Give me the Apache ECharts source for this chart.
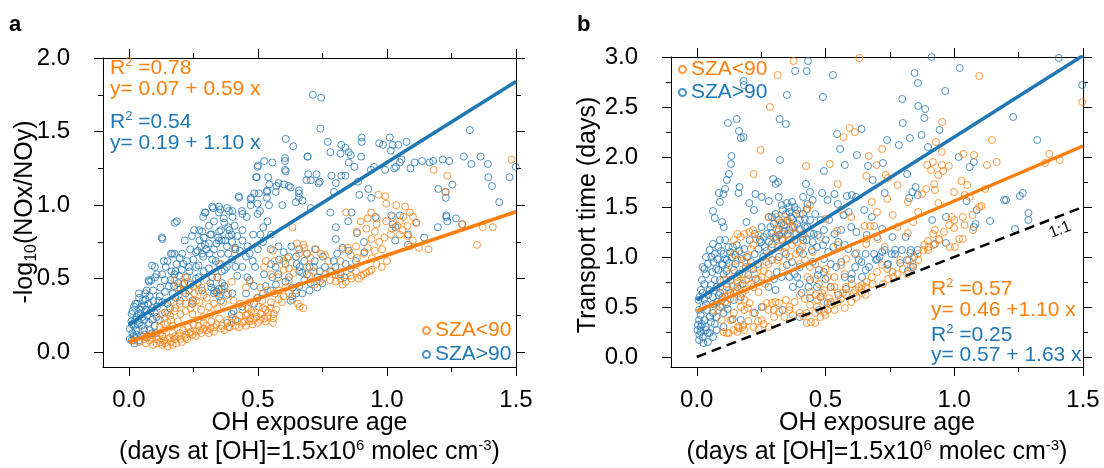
<!DOCTYPE html>
<html><head><meta charset="utf-8">
<script src="https://cdn.jsdelivr.net/npm/echarts@6/dist/echarts.min.js"></script>
<style>html,body{margin:0;padding:0;background:#fff}#c{width:1104px;height:468px}</style>
</head><body><div id="c"></div>
<script>
const ORANGE = '#ff7f0e', BLUE = '#1f77b4';
const F = "'Liberation Sans', Arial, Helvetica, sans-serif";

const xMajor = [0, 0.5, 1.0, 1.5];
const xMinor = [0.25, 0.75, 1.25];
const yMajorA = [0, 0.5, 1.0, 1.5, 2.0];
const yMinorA = [0.25, 0.75, 1.25, 1.75];
const yMajorB = [0, 0.5, 1.0, 1.5, 2.0, 2.5, 3.0];
const yMinorB = [0.25, 0.75, 1.25, 1.75, 2.25, 2.75];

const aBlue = [
[0.713,1.75],[0.745,1.73],[0.742,1.52],[1.321,1.51],[0.608,1.45],[0.637,1.40],[0.771,1.43],[0.823,1.41],[0.839,1.39],[0.902,1.43],[0.902,1.46],[0.970,1.42],[0.985,1.41],[1.011,1.46],[1.022,1.41],[1.044,1.41],[1.076,1.43],[1.015,1.37],[0.852,1.36],[0.820,1.35],[0.781,1.36],[0.860,1.34],[0.693,1.33],[0.900,1.33],[0.852,1.29],[0.950,1.26],[0.938,1.24],[0.874,1.26],[0.993,1.24],[1.035,1.26],[1.050,1.29],[1.107,1.29],[1.136,1.30],[1.165,1.29],[1.179,1.30],[1.216,1.31],[1.241,1.30],[1.298,1.33],[1.363,1.33],[1.391,1.28],[1.327,1.28],[1.028,1.25],[1.091,1.25],[1.057,1.31],
[0.524,1.30],[0.556,1.29],[0.499,1.26],[0.605,1.30],[0.608,1.23],
[0.493,1.19],[0.540,1.19],[0.544,1.14],[0.572,1.13],[0.601,1.14],[0.580,1.15],[0.627,1.12],[0.659,1.08],[0.695,1.21],[0.727,1.21],[0.705,1.17],[0.740,1.16],[0.735,1.15],[0.785,1.20],[0.823,1.20],[0.839,1.20],[0.802,1.15],[0.795,1.09],[0.888,1.16],[0.893,1.07],[0.939,1.05],[0.928,1.11],
[1.199,1.11],[1.227,1.09],[1.253,1.14],[1.228,1.05],[1.393,1.19],[1.407,1.13],[1.475,1.19],[1.435,1.02],[1.499,1.26],
[0.659,1.05],[0.705,0.98],[0.781,0.95],[0.863,0.95],[0.850,0.89],[0.802,0.85],[0.802,0.77],[0.852,0.69],[0.884,0.81],[0.911,0.75],[0.913,0.68],[0.956,0.92],[1.022,0.87],[1.033,0.85],[1.032,0.76],[1.082,0.73],[1.082,0.80],[1.114,0.88],[1.144,0.78],[1.197,0.85],[1.230,0.92],[1.234,0.89],[1.267,0.91],[1.291,0.87],[1.230,0.93],[1.017,0.93],[1.050,0.93],
[0.130,0.77],[0.186,0.89],[0.177,0.67],[0.197,0.64],[0.217,0.76],[0.238,0.70],[0.253,0.83],[0.273,0.83],[0.288,0.92],[0.295,0.95],[0.327,0.98],[0.355,0.97],[0.368,0.91],[0.388,0.96],[0.402,0.92],[0.427,1.05],[0.438,0.96],[0.457,0.92],[0.472,1.04],[0.486,1.08],[0.499,1.01],[0.508,0.96],[0.535,1.05],[0.535,1.09],[0.499,0.94],[0.537,0.89],[0.551,0.80],[0.521,0.85],[0.510,0.80],
[0.274,0.76],[0.295,0.73],[0.316,0.80],[0.330,0.70],[0.346,0.78],[0.357,0.83],[0.374,0.76],[0.385,0.85],[0.399,0.80],[0.357,0.67],[0.337,0.62],[0.313,0.67],[0.288,0.65],[0.267,0.69],[0.385,0.67],[0.413,0.71],[0.440,0.76],[0.454,0.65],[0.468,0.67],[0.482,0.80],
[0.004,0.16],[0.011,0.08],[0.022,0.06],[0.025,0.22],[0.032,0.33],[0.039,0.40],[0.053,0.24],[0.066,0.29],[0.080,0.38],[0.087,0.49],[0.094,0.42],[0.101,0.58],[0.108,0.24],[0.115,0.35],[0.122,0.44],[0.129,0.53],[0.136,0.62],[0.143,0.58],[0.150,0.33],[0.161,0.49],[0.170,0.40],[0.177,0.53],[0.191,0.47],[0.198,0.35],[0.212,0.60],[0.226,0.51],[0.233,0.42],[0.247,0.35],[0.260,0.58],[0.267,0.47],[0.011,0.26],[0.014,0.13],[0.028,0.15],[0.042,0.20],[0.047,0.11],[0.060,0.15],[0.078,0.20],[0.091,0.22],[0.105,0.13],[0.004,0.09],[0.046,0.29],[0.055,0.35],[0.069,0.42],[0.078,0.48],[0.108,0.53],[0.140,0.49],[0.150,0.62],[0.163,0.67],
[0.02,0.18],[0.03,0.12],[0.05,0.18],[0.07,0.25],[0.09,0.30],[0.06,0.32],[0.04,0.37],[0.10,0.27],
[0.32,0.44],[0.34,0.41],[0.36,0.43],[0.38,0.39],[0.35,0.38],[0.33,0.40],[0.37,0.45],
[0.579,0.53],[0.607,0.48],[0.634,0.44],[0.648,0.40],[0.627,0.35],[0.662,0.58],[0.690,0.53],[0.717,0.58],[0.704,0.47],[0.731,0.51],[0.551,0.60],[0.524,0.53],[0.489,0.58],[0.468,0.49],[0.454,0.40],[0.485,0.33],[0.399,0.26],[0.406,0.28],[0.357,0.35],[0.330,0.42],[0.316,0.47],[0.343,0.51],[0.371,0.56],[0.413,0.58],[0.807,0.67],[0.828,0.71],[0.835,0.51],[0.821,0.53],[0.794,0.62],[0.752,0.65],[0.724,0.70],[0.690,0.67],[0.648,0.65],[0.607,0.60],
[0.500,1.27],[0.605,1.32],[0.605,1.24],[0.692,1.33],[0.496,1.19],[0.426,1.06],[0.474,1.05],[0.504,1.08],[0.536,1.10],[0.569,1.09],[0.620,1.13],[0.659,1.10],[0.688,1.17],[0.323,0.99],[0.349,0.99],[0.381,0.98],[0.297,0.95],[0.349,0.95],[0.401,0.96],[0.440,0.94],[0.472,1.00],[0.543,1.00],[0.595,1.00],[0.647,1.02],[0.673,1.03],
[0.178,0.88],[0.128,0.78],[0.168,0.67],[0.207,0.67],[0.09,0.59],[0.102,0.51],[0.077,0.49],[0.064,0.40],[0.025,0.33],[0.038,0.26],[0.012,0.19],[0.018,0.11],[0.245,0.79],[0.284,0.82],[0.31,0.74],[0.349,0.76],[0.388,0.79],[0.413,0.70],[0.44,0.83],[0.284,0.67],[0.323,0.63],[0.232,0.58],[0.181,0.55],[0.27,0.51],[0.323,0.51],[0.362,0.47],[0.349,0.43],[0.284,0.42],[0.245,0.33],[0.401,0.40],[0.44,0.31],[0.413,0.22],[0.381,0.20],[0.459,0.51],[0.485,0.45],[0.556,0.51],[0.569,0.58],[0.582,0.63],[0.62,0.65],[0.66,0.70],[0.62,0.51],[0.66,0.45],[0.672,0.40],[0.633,0.38],[0.672,0.54],
[0.01,0.21],[0.015,0.28],[0.02,0.31],[0.03,0.24],[0.035,0.19],[0.045,0.26],[0.05,0.31],[0.06,0.22],[0.065,0.36],[0.075,0.33],[0.085,0.28],[0.095,0.35],[0.11,0.31],[0.12,0.38],[0.13,0.34],[0.14,0.41],[0.155,0.45],[0.165,0.55],[0.175,0.45],[0.185,0.60],[0.195,0.52],[0.205,0.56],[0.215,0.47],[0.225,0.62],[0.235,0.55],[0.25,0.63],[0.26,0.68],[0.27,0.59],[0.28,0.72],[0.29,0.78],[0.30,0.70],[0.31,0.86],[0.32,0.80],[0.33,0.89],[0.34,0.74],[0.35,0.82],[0.36,0.76],[0.37,0.88],[0.38,0.72],[0.39,0.83],[0.40,0.75],[0.41,0.86],[0.42,0.79],[0.43,0.69],[0.35,0.60],[0.36,0.55],[0.38,0.58],[0.40,0.63],[0.31,0.57],[0.29,0.55],[0.26,0.50],[0.24,0.46],[0.22,0.40],[0.20,0.43],[0.18,0.37],[0.16,0.30],[0.14,0.27],[0.12,0.22],[0.10,0.18],[0.08,0.15],[0.06,0.12],[0.04,0.08],[0.025,0.10],[0.07,0.10],[0.09,0.13],[0.48,0.62],[0.50,0.70],[0.52,0.75],[0.46,0.72],[0.44,0.58],[0.42,0.52],[0.55,0.70],[0.58,0.72],[0.60,0.68],[0.63,0.72],[0.65,0.60],[0.68,0.62],[0.70,0.58],[0.72,0.62],[0.74,0.55],[0.76,0.58],[0.78,0.55],[0.80,0.58],[0.84,0.60],[0.86,0.57],[0.88,0.62],[0.75,0.47],[0.73,0.44],[0.70,0.42],[0.68,0.49],[0.66,0.55],[0.57,0.46],[0.55,0.42],[0.52,0.40],[0.50,0.37],[0.53,0.45]
];

const aOrange = [
[1.483,1.31],[1.181,1.24],[1.234,1.20],[1.226,1.09],[0.967,1.07],[0.997,1.01],[1.036,1.00],[0.994,1.06],[1.089,0.95],[1.071,0.99],[0.842,0.95],[0.939,0.95],[0.960,0.91],[0.925,0.91],[0.898,0.89],[0.884,0.82],[0.953,0.82],[0.997,0.89],[1.022,0.92],[1.050,0.89],[1.064,0.92],[1.101,0.92],[1.112,0.88],[1.079,0.86],[1.050,0.80],[1.015,0.80],[0.981,0.70],[0.953,0.69],[0.925,0.71],[0.884,0.64],[0.911,0.67],[0.942,0.64],[0.932,0.55],[0.909,0.53],[0.891,0.50],[0.863,0.50],[0.828,0.46],[0.801,0.48],[0.814,0.52],[0.787,0.55],[0.752,0.50],[0.717,0.55],[0.690,0.58],[0.676,0.73],[0.651,0.74],[0.690,0.67],[0.704,0.64],[0.745,0.67],[0.773,0.62],[0.828,0.70],[0.849,0.71],[1.124,0.71],[1.161,0.70],[1.089,0.72],[1.371,0.85],[1.410,0.85],[1.349,0.73],[1.292,0.87],
[0.634,0.85],[0.614,0.64],[0.600,0.62],[0.565,0.62],[0.531,0.62],[0.524,0.58],[0.558,0.69],[0.551,0.53],[0.579,0.51],[0.607,0.44],[0.620,0.49],[0.648,0.42],[0.662,0.31],[0.676,0.30],[0.655,0.33],[0.634,0.36],[0.593,0.34],[0.565,0.40],[0.537,0.42],[0.510,0.44],[0.468,0.48],[0.454,0.44],[0.399,0.48],[0.409,0.70],[0.357,0.60],[0.343,0.51],[0.302,0.49],[0.281,0.44],[0.219,0.51],[0.177,0.49],
[0.018,0.08],[0.039,0.07],[0.066,0.06],[0.080,0.08],[0.094,0.05],[0.108,0.06],[0.122,0.07],[0.136,0.08],[0.150,0.09],[0.163,0.07],[0.177,0.09],[0.191,0.11],[0.205,0.07],[0.219,0.12],[0.233,0.13],[0.247,0.12],[0.260,0.14],[0.274,0.15],[0.288,0.16],[0.302,0.15],[0.316,0.16],[0.330,0.17],[0.357,0.16],[0.385,0.17],[0.399,0.20],[0.413,0.18],[0.427,0.17],[0.440,0.20],[0.454,0.18],[0.468,0.21],[0.482,0.22],[0.496,0.24],[0.510,0.22],[0.524,0.23],[0.537,0.24],[0.558,0.20],[0.562,0.26],[0.530,0.29],[0.503,0.31],[0.474,0.28],[0.454,0.25],[0.496,0.37],[0.468,0.34],[0.434,0.33],[0.406,0.35],[0.385,0.40],[0.366,0.34],[0.343,0.30],[0.316,0.26],[0.288,0.24],[0.267,0.22],[0.247,0.26],[0.219,0.28],[0.198,0.33],[0.177,0.28],[0.163,0.22],[0.150,0.20],[0.136,0.15],[0.122,0.13],[0.108,0.11],[0.087,0.12],[0.073,0.11],[0.053,0.11],[0.115,0.22],[0.129,0.26],[0.150,0.27],[0.163,0.35],[0.191,0.38],[0.212,0.42],[0.233,0.38],[0.253,0.40],[0.247,0.33],[0.274,0.34],[0.302,0.37],[0.330,0.33],[0.343,0.40],[0.371,0.44],[0.440,0.29],[0.461,0.30],[0.517,0.35],[0.551,0.34],[0.579,0.42],[0.198,0.13],[0.226,0.09],[0.184,0.06],[0.150,0.04],[0.170,0.05],[0.129,0.05],
[0.06,0.09],[0.09,0.10],[0.11,0.09],[0.13,0.11],[0.14,0.06],[0.16,0.10],[0.17,0.13],[0.18,0.11],[0.20,0.09],[0.21,0.15],[0.22,0.10],[0.23,0.17],[0.24,0.14],[0.25,0.19],[0.26,0.11],[0.27,0.18],[0.28,0.13],[0.29,0.20],[0.30,0.18],[0.31,0.13],[0.32,0.21],[0.33,0.14],[0.34,0.19],[0.35,0.23],[0.36,0.18],[0.37,0.15],[0.38,0.22],[0.39,0.17],[0.40,0.23],[0.42,0.21],[0.43,0.25],[0.45,0.21],[0.46,0.26],[0.47,0.23],[0.48,0.19],[0.49,0.27],[0.50,0.20],[0.51,0.26],[0.52,0.30],[0.53,0.21],[0.54,0.27],[0.55,0.30],[0.56,0.23],[0.57,0.29],[0.12,0.17],[0.14,0.19],[0.17,0.18],[0.19,0.21],[0.16,0.25],[0.18,0.30],[0.20,0.26],[0.22,0.33],[0.24,0.30],[0.26,0.35],[0.28,0.29],[0.29,0.39],[0.31,0.31],[0.27,0.42],[0.25,0.45],[0.23,0.48],[0.21,0.46],[0.19,0.44],[0.60,0.38],[0.62,0.40],[0.58,0.36],[0.70,0.52],[0.72,0.46],[0.74,0.48],[0.76,0.53],[0.78,0.49],[0.80,0.53],[0.82,0.50],[0.84,0.48],[0.86,0.52],[0.88,0.55],[0.90,0.52],[0.92,0.54],[0.94,0.56],[0.96,0.60],[0.98,0.58],[1.00,0.62],[0.97,0.75],[0.99,0.78],[1.02,0.84],[1.04,0.86],[1.06,0.83],[1.08,0.79],[1.10,0.76],[0.94,0.77],[0.92,0.84],[0.96,0.87],[0.86,0.66],[0.88,0.72],[0.82,0.62],[0.76,0.66],[0.72,0.70],[0.68,0.71],[0.66,0.67],[0.62,0.57],[0.64,0.54],[0.60,0.56]
];

const bBlue = [
[0.432,2.96],[0.427,2.86],[0.382,2.86],[0.529,2.82],[0.182,2.76],[0.183,2.72],[0.350,2.62],[0.490,2.60],[0.912,3.00],[1.021,2.89],[0.846,2.84],[0.859,2.74],[0.965,2.66],[1.406,2.99],[1.497,2.72],[0.798,2.58],[0.860,2.51],[0.887,2.48],[0.884,2.39],[0.800,2.34],[0.943,2.27],[1.229,2.40],[1.322,2.17],[0.121,2.34],[0.155,2.38],[0.164,2.26],[0.171,2.19],[0.182,2.20],[0.322,2.38],[0.346,2.33],[0.545,2.23],[0.557,2.08],[0.622,2.02],[0.640,2.28],[0.739,2.17],[0.785,2.12],[0.828,2.19],[0.873,2.22],[0.898,2.10],[1.017,2.00],[1.076,1.95],[1.060,1.90],[0.135,2.01],[0.133,1.93],[0.125,1.83],[0.117,1.77],[0.166,1.70],[0.110,1.68],[0.086,1.64],[0.090,1.55],[0.104,1.63],[0.063,1.46],[0.070,1.39],[0.098,1.35],[0.105,1.30],[0.162,1.64],[0.204,1.54],[0.193,1.35],[0.222,1.47],[0.280,1.56],[0.297,1.78],[0.316,1.75],[0.323,1.97],[0.306,1.73],[0.318,1.60],[0.252,1.60],[0.228,1.63],[0.424,1.73],[0.440,1.65],[0.487,1.64],[0.450,1.57],[0.413,1.60],[0.430,1.53],[0.494,1.86],[0.508,1.57],[0.535,1.63],[0.548,1.53],[0.575,1.92],[0.583,1.61],[0.602,1.62],[0.619,1.60],[0.683,1.77],[0.730,1.64],[0.723,1.94],[0.665,1.91],[0.817,1.83],[0.858,1.62],[0.837,1.65],[0.825,1.59],[0.850,1.70],[1.048,1.56],[0.914,1.37],[0.968,1.40],[1.087,1.47],[1.083,1.33],[1.139,1.36],[1.201,1.57],[1.194,1.57],[1.255,1.61],[1.266,1.64],[1.288,1.44],[1.288,1.37],[1.236,1.28],[1.076,1.30],[0.968,1.14],[0.925,1.13],
[0.474,0.87],[0.494,0.85],[0.521,0.93],[0.541,0.90],[0.561,0.95],[0.575,0.80],[0.602,0.83],[0.615,0.90],[0.629,0.97],[0.642,0.80],[0.656,0.87],[0.669,0.90],[0.689,1.03],[0.696,0.97],[0.710,1.00],[0.730,1.07],[0.743,0.93],[0.757,1.03],[0.770,1.07],[0.797,1.07],[0.811,1.20],[0.817,0.97],[0.831,1.07],[0.844,1.00],[0.858,1.07],[0.656,1.03],[0.615,1.03],[0.588,1.08],[0.494,0.98],[0.467,1.10],[0.501,1.17],[0.535,1.23],[0.561,1.27],[0.575,1.12],[0.413,1.17],[0.420,1.30],[0.386,1.23],[0.400,0.73],[0.407,0.64],[0.434,0.70],[0.440,0.59],[0.400,0.90],[0.373,0.70],[0.380,0.83],[0.360,0.80],[0.440,0.77],[0.467,0.70],[0.481,0.60],[0.508,0.54],[0.474,0.47],[0.400,0.40],[0.333,0.47],[0.306,0.67],[0.279,0.70],[0.252,0.50],[0.225,0.44],[0.171,0.37],[0.104,0.30],
[0.292,1.40],[0.306,1.43],[0.319,1.37],[0.333,1.47],[0.346,1.43],[0.360,1.50],[0.366,1.40],[0.373,1.30],[0.386,1.43],[0.353,1.23],[0.333,1.17],[0.306,1.20],[0.292,1.13],[0.272,1.23],[0.265,1.10],[0.286,1.30],[0.319,1.27],[0.339,1.32],[0.360,1.27],[0.380,1.17],[0.400,1.07],[0.413,1.03],[0.346,1.03],[0.319,1.00],[0.292,0.97],[0.258,1.00],[0.238,0.93],[0.225,1.03],[0.245,1.17],[0.225,1.23],[0.205,1.17],[0.252,1.30],[0.279,1.40],[0.400,1.37],[0.413,1.43],[0.427,1.48],[0.440,1.37],[0.460,1.43],[0.481,1.37],[0.494,1.27],[0.514,1.37],[0.454,1.23],[0.427,1.17],[0.447,1.07],
[0.009,0.17],[0.023,0.20],[0.003,0.27],[0.016,0.30],[0.036,0.27],[0.043,0.24],[0.030,0.37],[0.009,0.37],[0.050,0.40],[0.063,0.44],[0.077,0.40],[0.090,0.50],[0.104,0.44],[0.036,0.53],[0.023,0.64],[0.050,0.67],[0.063,0.60],[0.077,0.70],[0.090,0.77],[0.104,0.83],[0.117,0.70],[0.131,0.77],[0.144,0.87],[0.036,0.83],[0.023,0.90],[0.043,0.93],[0.057,1.00],[0.070,1.03],[0.084,1.10],[0.063,1.13],[0.050,1.07],[0.090,1.17],[0.104,1.03],[0.117,0.97],[0.124,1.10],[0.137,1.00],[0.151,0.93],[0.164,0.83],[0.178,0.73],[0.191,0.90],[0.030,0.73],[0.009,0.47],[0.007,0.57],[0.016,0.67],[0.036,1.00],[0.070,0.77],[0.084,0.87],[0.097,0.93],[0.110,1.17],[0.158,0.70],[0.171,0.60],[0.144,0.57],[0.131,0.64],[0.117,0.53],[0.090,0.64],[0.063,0.53],[0.050,0.24],[0.063,0.20],[0.077,0.27],[0.026,0.14],[0.043,0.15],
[0.01,0.22],[0.02,0.33],[0.015,0.42],[0.025,0.50],[0.03,0.58],[0.04,0.47],[0.045,0.62],[0.055,0.72],[0.06,0.85],[0.065,0.95],[0.075,0.88],[0.08,0.98],[0.085,0.62],[0.095,1.06],[0.10,0.92],[0.11,0.98],[0.115,0.86],[0.125,0.94],[0.13,1.05],[0.14,1.10],[0.15,1.02],[0.155,1.12],[0.165,1.06],[0.175,0.98],[0.185,1.08],[0.195,1.00],[0.20,0.82],[0.21,0.95],[0.22,0.88],[0.23,0.78],[0.24,1.08],[0.25,1.15],[0.26,1.20],[0.27,1.06],[0.28,1.15],[0.29,1.24],[0.30,1.33],[0.31,1.18],[0.32,1.22],[0.33,1.34],[0.34,1.26],[0.35,1.36],[0.36,1.45],[0.37,1.38],[0.38,1.50],[0.39,1.33],[0.40,1.28],[0.41,1.20],[0.42,1.38],[0.43,1.30],[0.44,1.24],[0.45,1.15],[0.47,1.22],[0.49,1.12],[0.51,1.05],[0.53,1.10],[0.55,1.15],[0.57,1.42],[0.59,1.45],[0.60,1.30],[0.62,1.25],[0.65,1.47],[0.68,1.40],[0.70,1.20],[0.33,1.52],[0.35,1.54],[0.37,1.55],[0.39,1.47],[0.31,0.85],[0.33,0.80],[0.35,0.92],[0.37,0.95],[0.39,0.80],[0.30,0.78],[0.02,0.77],[0.03,0.88],[0.01,0.60],[0.005,0.32],[0.015,0.25],[0.035,0.30],[0.055,0.35],[0.07,0.33],[0.08,0.55],[0.10,0.60],[0.12,0.48],[0.14,0.38],[0.70,0.98],[0.72,1.05],[0.74,0.92],[0.77,1.03],[0.79,0.94],[0.83,1.04],[0.84,0.90],[0.82,0.86],[0.76,1.20],[0.72,1.28],[0.66,1.22],[0.64,0.95],[0.60,0.78],[0.58,0.68],[0.55,0.62],[0.52,0.70],[0.50,0.78],[0.47,0.82],[0.45,0.95]
];

const bOrange = [
[0.376,2.96],[0.631,2.99],[0.314,2.82],[1.097,2.81],[0.284,2.50],[0.953,2.35],[0.594,2.29],[0.614,2.25],[0.570,2.20],[0.248,2.07],[0.720,2.08],[0.929,2.15],[1.146,2.17],[0.221,1.83],[0.424,1.91],[0.517,1.93],[0.548,1.73],[0.668,2.01],[0.658,1.81],[0.698,1.92],[0.734,1.82],[0.743,1.79],[0.952,2.05],[0.917,1.95],[0.952,1.92],[0.979,1.91],[0.957,1.86],[0.895,1.92],[0.938,1.82],[0.910,1.87],[1.035,2.03],[1.077,2.02],[1.127,1.92],[1.165,1.95],[1.369,2.03],[1.353,1.94],[1.410,1.97],[1.497,2.55],[1.028,1.76],[1.050,1.72],[0.999,1.65],[1.040,1.62],[0.925,1.67],[0.875,1.63],[0.891,1.68],[0.922,1.73],[0.938,1.54],[0.990,1.40],[1.033,1.40],[0.999,1.29],[1.073,1.27],[1.071,1.42],[1.097,1.50],[1.106,1.51],[1.040,1.32],[1.019,1.18],[1.033,1.18],[1.002,1.10],[0.983,1.10],[0.942,1.17],[0.918,1.23],[0.925,1.27],[0.898,1.16],[0.898,1.07],[0.884,1.12],[0.761,1.42],[0.652,1.31],[0.673,1.31],[0.689,1.31],[0.545,1.26],[0.548,1.12],[0.658,1.13],[0.703,1.18],[0.730,1.10],[0.440,1.52],[0.430,1.48],[0.279,1.40],[0.310,1.40],[0.400,1.43],
[0.817,0.83],[0.831,0.90],[0.858,1.03],[0.824,0.97],[0.790,0.97],[0.763,0.80],[0.743,0.78],[0.723,0.73],[0.683,0.73],[0.656,0.70],[0.642,0.64],[0.656,0.62],[0.642,0.72],[0.629,0.70],[0.579,0.70],[0.548,0.64],[0.521,0.70],[0.494,0.67],[0.474,0.73],[0.508,0.80],[0.535,0.80],[0.575,0.83],[0.602,0.73],[0.615,0.67],[0.568,0.64],[0.548,0.55],[0.521,0.52],[0.508,0.47],[0.535,0.47],[0.494,0.55],[0.467,0.57],[0.481,0.60],[0.440,0.52],[0.467,0.50],[0.460,0.44],[0.427,0.44],[0.413,0.41],[0.400,0.44],[0.373,0.42],[0.360,0.47],[0.427,0.34],[0.460,0.34],[0.443,0.35],[0.575,0.49],[0.609,0.64],[0.494,0.45],[0.487,0.64],[0.514,0.59],[0.535,0.70],[0.346,0.57],[0.319,0.54],[0.306,0.55],[0.292,0.54],[0.272,0.54],[0.279,0.47],[0.299,0.47],[0.252,0.37],[0.238,0.36],[0.219,0.44],[0.198,0.49],[0.185,0.47],[0.205,0.54],[0.185,0.57],[0.171,0.50],[0.144,0.44],[0.131,0.37],[0.104,0.25],[0.124,0.24],[0.144,0.27],[0.164,0.29],[0.185,0.27],[0.178,0.30],[0.158,0.25],[0.117,0.24],[0.137,0.37],[0.097,0.37],
[0.144,1.17],[0.158,1.23],[0.171,1.20],[0.185,1.23],[0.205,1.25],[0.218,1.27],[0.144,1.03],[0.158,0.97],[0.171,1.03],[0.137,0.90],[0.158,0.80],[0.178,0.83],[0.191,0.77],[0.205,0.90],[0.211,0.73],[0.225,0.83],[0.238,0.77],[0.252,0.80],[0.265,0.73],[0.279,0.83],[0.279,0.93],[0.238,0.90],[0.191,0.67],[0.178,0.64],[0.164,0.57],[0.144,0.64],[0.124,0.67],[0.110,0.60],[0.097,0.57],[0.084,0.47],[0.063,0.47],[0.117,0.73],[0.090,0.70],[0.104,0.77],[0.124,0.83],[0.346,1.10],[0.360,1.17],[0.333,1.23],[0.319,1.10],[0.313,0.97],[0.333,0.90],[0.360,1.00],[0.386,1.03],[0.400,0.93],[0.366,1.30],[0.353,1.37],[0.339,1.40],[0.380,1.23],[0.413,1.23],[0.420,0.97],[0.440,0.90],[0.460,0.93],[0.258,0.50],
[0.10,0.50],[0.11,0.55],[0.12,0.62],[0.13,0.58],[0.14,0.70],[0.15,0.66],[0.16,0.75],[0.17,0.72],[0.18,0.88],[0.19,0.95],[0.20,1.00],[0.21,1.08],[0.22,1.12],[0.23,1.18],[0.24,1.22],[0.20,0.78],[0.22,0.70],[0.24,0.65],[0.26,0.86],[0.27,0.95],[0.28,1.02],[0.29,1.10],[0.30,1.20],[0.31,1.28],[0.32,1.32],[0.33,1.18],[0.34,1.05],[0.35,1.22],[0.36,1.35],[0.37,1.12],[0.38,1.30],[0.39,1.15],[0.40,1.05],[0.41,1.10],[0.16,0.30],[0.18,0.32],[0.20,0.36],[0.22,0.30],[0.24,0.28],[0.26,0.33],[0.28,0.30],[0.30,0.40],[0.32,0.45],[0.34,0.40],[0.36,0.50],[0.38,0.55],[0.40,0.62],[0.42,0.58],[0.44,0.65],[0.46,0.62],[0.48,0.40],[0.50,0.42],[0.52,0.55],[0.56,0.58],[0.58,0.62],[0.60,0.55],[0.62,0.60],[0.64,0.68],[0.66,0.75],[0.68,0.80],[0.70,0.85],[0.72,0.92],[0.74,0.88],[0.76,0.85],[0.78,0.83],[0.80,0.88],[0.84,0.92],[0.86,0.97],[0.88,1.07],[0.90,1.10],[0.92,1.12],[0.94,1.18],[0.96,1.25],[0.98,1.32],[1.00,1.37],[1.06,1.60],[1.12,1.68],[0.86,1.45],[0.82,1.55],[0.78,1.72],[0.68,1.55],[0.60,1.40],[0.56,1.47],[0.50,1.38],[0.48,1.20],[0.45,1.05],[0.43,0.80],[0.46,0.78],[0.50,0.88],[0.56,0.92],[0.58,0.98],[0.62,1.04],[0.66,1.18],[0.70,1.45],[0.74,1.58],[0.78,1.30],[0.82,1.24],[0.84,1.35]
];

const aFitOrange = [[0, 0.07], [1.5, 0.955]];
const aFitBlue = [[0, 0.19], [1.5, 1.84]];
const bFitOrange = [[0, 0.46], [1.5, 2.11]];
const bFitBlue = [[0, 0.57], [1.5, 3.015]];
const bOneToOne = [[0, 0], [1.5, 1.5]];

const fmt = v => v.toFixed(1);
function ax(grid, pos, min, max, ticks, len, showLine, labels, margin) {
  return {
    type: 'value', gridIndex: grid, position: pos, min: min, max: max,
    axisLine: { show: showLine, onZero: false, lineStyle: { color: '#000', width: 1 } },
    axisTick: { show: true, customValues: ticks, length: len, inside: false, lineStyle: { color: '#000', width: 1 } },
    axisLabel: labels ? { show: true, customValues: labels, formatter: fmt, fontSize: 24, color: '#000', fontFamily: F, margin: margin } : { show: false },
    splitLine: { show: false }
  };
}
const xAxes = [], yAxes = [];
[[yMajorA, yMinorA, 2.0], [yMajorB, yMinorB, 3.0]].forEach((cfg, g) => {
  xAxes.push(ax(g, 'bottom', -0.1, 1.5, xMajor, 9, true, xMajor, 21));
  xAxes.push(ax(g, 'bottom', -0.1, 1.5, xMinor, 5, false, null));
  xAxes.push(ax(g, 'top', -0.1, 1.5, xMajor, 9, true, null));
  xAxes.push(ax(g, 'top', -0.1, 1.5, xMinor, 5, false, null));
  yAxes.push(ax(g, 'left', -0.1, cfg[2], cfg[0], 9, true, cfg[0], 33));
  yAxes.push(ax(g, 'left', -0.1, cfg[2], cfg[1], 5, false, null));
  yAxes.push(ax(g, 'right', -0.1, cfg[2], cfg[0], 9, true, null));
  yAxes.push(ax(g, 'right', -0.1, cfg[2], cfg[1], 5, false, null));
});

function sc(name, data, color, xi) {
  return { type: 'scatter', name: name, data: data, xAxisIndex: xi, yAxisIndex: xi,
    symbol: 'circle', symbolSize: 7, silent: true, emphasis: { disabled: true },
    itemStyle: { color: 'rgba(0,0,0,0)', borderColor: color, borderWidth: 1 } };
}
function ln(data, color, xi, width, type) {
  return { type: 'line', data: data, xAxisIndex: xi, yAxisIndex: xi, symbol: 'none', silent: true,
    emphasis: { disabled: true }, lineStyle: { color: color, width: width, type: type || 'solid' }, z: 5 };
}

function rt(text, color, size, supSize) {
  return { text: text, align: 'left', verticalAlign: 'middle',
    rich: { m: { fontSize: size, fontFamily: F, fill: color, lineHeight: size + 3 },
            p: { fontSize: supSize, fontFamily: F, fill: color, verticalAlign: 'top' } } };
}
function ann(x, y, text, color) {
  return { type: 'text', x: x, y: y, z: 10, style: rt(text, color, 21, 13) };
}
function xTitle(cx) {
  return [
    { type: 'text', x: cx, y: 423, style: { text: 'OH exposure age', fontSize: 25, fontFamily: F, fill: '#000', align: 'center', verticalAlign: 'middle' } },
    { type: 'text', x: cx, y: 452, style: Object.assign(rt('{m|(days at [OH]=1.5x10}{p|6}{m| molec cm}{p|-3}{m|)}', '#000', 25, 15), { align: 'center' }) }
  ];
}

const option = {
  animation: false,
  backgroundColor: '#fff',
  grid: [
    { left: 103, top: 58, width: 413, height: 309 },
    { left: 671, top: 57, width: 412, height: 310 }
  ],
  xAxis: xAxes,
  yAxis: yAxes,
  legend: [
    { orient: 'vertical', left: 417, top: 315, itemWidth: 7, itemHeight: 7, itemGap: 3, icon: 'circle', selectedMode: false,
      textStyle: { fontSize: 21, fontFamily: F },
      data: [{ name: 'SZA<90', textStyle: { color: ORANGE } }, { name: 'SZA>90', textStyle: { color: BLUE } }] },
    { orient: 'vertical', left: 673, top: 54, itemWidth: 7, itemHeight: 7, itemGap: 2, icon: 'circle', selectedMode: false,
      textStyle: { fontSize: 21, fontFamily: F },
      data: [{ name: 'SZA<90', textStyle: { color: ORANGE } }, { name: 'SZA>90', textStyle: { color: BLUE } }] }
  ],
  series: [
    sc('SZA>90', aBlue, BLUE, 0),
    sc('SZA<90', aOrange, ORANGE, 0),
    ln(aFitBlue, BLUE, 0, 3.5),
    ln(aFitOrange, ORANGE, 0, 3.5),
    sc('SZA>90', bBlue, BLUE, 4),
    sc('SZA<90', bOrange, ORANGE, 4),
    ln(bFitBlue, BLUE, 4, 3.5),
    ln(bFitOrange, ORANGE, 4, 3.5),
    ln(bOneToOne, '#000', 4, 2.5, [10, 6])
  ],
  graphic: { elements: [
    { type: 'text', x: 9, y: 25, style: { text: 'a', fontSize: 22, fontWeight: 'bold', fontFamily: F, fill: '#000', align: 'left', verticalAlign: 'middle' } },
    { type: 'text', x: 577, y: 25, style: { text: 'b', fontSize: 22, fontWeight: 'bold', fontFamily: F, fill: '#000', align: 'left', verticalAlign: 'middle' } },
    { type: 'text', x: 25, y: 212, rotation: Math.PI / 2,
      style: { text: '{m|-log}{s|10}{m|(NOx/NOy)}', align: 'center', verticalAlign: 'middle',
        rich: { m: { fontSize: 25, fontFamily: F, fill: '#000', lineHeight: 30 },
                s: { fontSize: 16, fontFamily: F, fill: '#000', verticalAlign: 'bottom' } } } },
    { type: 'text', x: 588, y: 215, rotation: Math.PI / 2,
      style: { text: 'Transport time (days)', fontSize: 25, fontFamily: F, fill: '#000', align: 'center', verticalAlign: 'middle' } },
    ...xTitle(309.5),
    ...xTitle(877),
    ann(110, 68, '{m|R}{p|2}{m| =0.78}', ORANGE),
    ann(110, 89, '{m|y= 0.07 + 0.59 x}', ORANGE),
    ann(110, 122, '{m|R}{p|2}{m| =0.54}', BLUE),
    ann(110, 143, '{m|y= 0.19 + 1.10 x}', BLUE),
    ann(931, 289, '{m|R}{p|2}{m| =0.57}', ORANGE),
    ann(931, 310, '{m|y= 0.46 +1.10 x}', ORANGE),
    ann(931, 335, '{m|R}{p|2}{m| =0.25}', BLUE),
    ann(931, 355, '{m|y= 0.57 + 1.63 x}', BLUE),
    { type: 'text', x: 1060, y: 230, rotation: 21 * Math.PI / 180, z: 10,
      style: { text: '1:1', fontSize: 16, fontFamily: F, fill: '#000', align: 'center', verticalAlign: 'middle' } }
  ] }
};
const chart = echarts.init(document.getElementById('c'), null, { renderer: 'canvas' });
chart.setOption(option);
</script></body></html>
